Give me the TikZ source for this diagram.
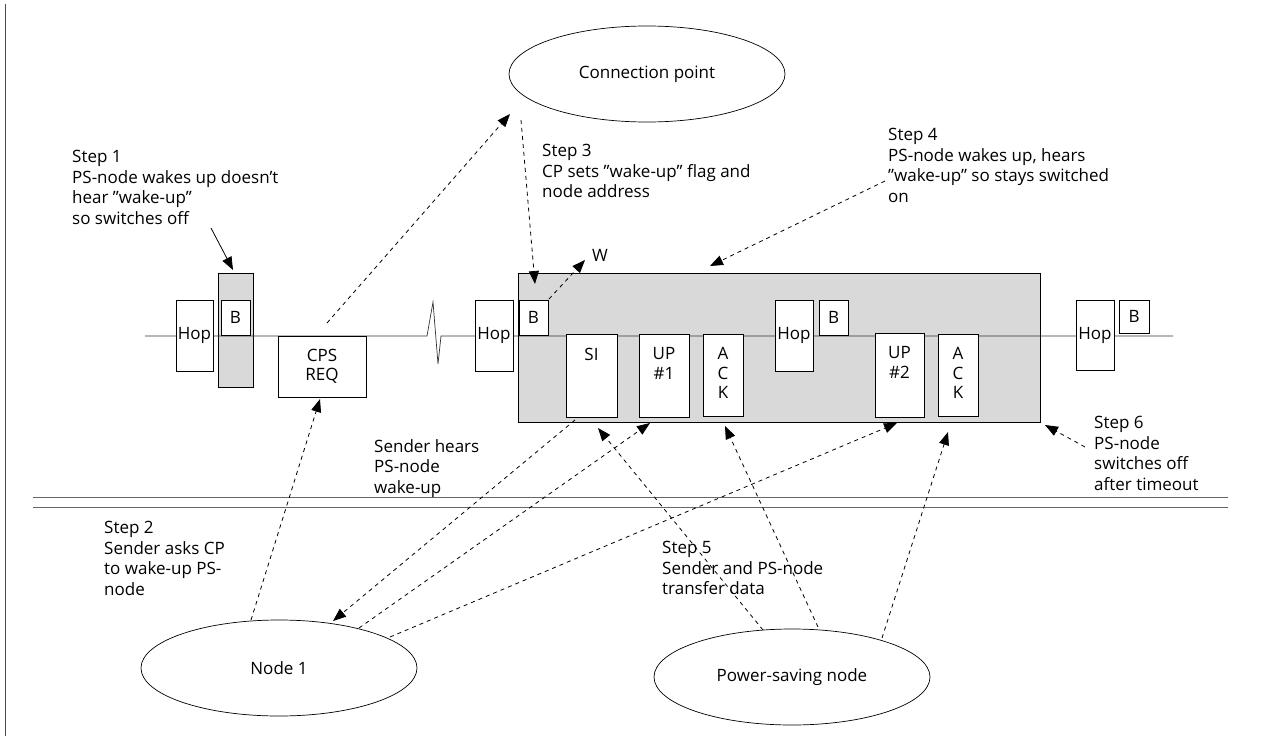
\documentclass[tikz,border=0pt]{standalone}
\usepackage{fontspec}
\setmainfont{Open Sans}
\usetikzlibrary{arrows.meta,shapes.geometric}
\newcommand{\sq}{\symbol{"27}}
\newcommand{\dq}{\symbol{"22}}
\begin{document}
\begin{tikzpicture}[x=1pt,y=-1pt,
  lbl/.style={anchor=north west,align=left,inner sep=0pt,font=\fontsize{17}{20.5}\selectfont},
  bx/.style={draw,fill=white,line width=0.8pt,inner sep=0pt,font=\fontsize{17}{19}\selectfont,align=center},
  shd/.style={fill=black!15,draw,line width=0.9pt},
  ell/.style={ellipse,draw,line width=0.7pt,minimum width=276pt,minimum height=96pt,inner sep=0pt,font=\fontsize{17}{20}\selectfont},
  dar/.style={dash pattern=on 4pt off 4pt,line width=0.8pt,-{Triangle[length=13pt,width=10pt]}},
  sar/.style={line width=0.8pt,-{Triangle[length=13pt,width=10pt]}},
  btxt/.style={anchor=north,inner sep=0pt,align=center,font=\fontsize{17}{19.5}\selectfont}
]
\useasboundingbox[fill=white] (0,0) rectangle (1264,736);
% left border
\draw[line width=0.6pt,black!70] (5,4) -- (5,736);
% double separator lines
\draw[line width=0.9pt,black!60] (33,497) -- (1228,497);
\draw[line width=0.9pt,black!60] (33,507) -- (1228,507);
% shaded regions
\node[shd,rectangle,minimum width=35pt,minimum height=114pt,inner sep=0pt] (col) at (235.5,330) {};
\node[shd,rectangle,minimum width=522pt,minimum height=149pt,inner sep=0pt] (reg) at (779,347.5) {};
% baseline with zigzag
\coordinate (l0) at (145,336);
\coordinate (z1) at (427,336);
\coordinate (z2) at (433,302);
\coordinate (z3) at (438,364);
\coordinate (z4) at (441,336);
\coordinate (l1) at (1173,336);
\draw[line width=0.7pt,black!80] (l0) -- (z1) -- (z2) -- (z3) -- (z4) -- (l1);
% boxes
\node[bx,minimum width=37pt,minimum height=71pt] (hop1) at (194.5,335.5) {Hop};
\node[bx,minimum width=29pt,minimum height=35pt] (b1) at (235.5,317.5) {B};
\node[bx,minimum width=88pt,minimum height=61pt] (cps) at (322,366.5) {CPS\\REQ};
\node[bx,minimum width=38pt,minimum height=71pt] (hop2) at (494,335.5) {Hop};
\node[bx,minimum width=29pt,minimum height=35pt] (b2) at (533.5,317.5) {B};
\node[bx,minimum width=51pt,minimum height=83pt] (si) at (591.5,375.5) {};
\node[bx,minimum width=50pt,minimum height=83pt] (up1) at (664,375.5) {};
\node[bx,minimum width=40pt,minimum height=82pt] (ack1) at (723,375) {};
\node[bx,minimum width=38pt,minimum height=71pt] (hop3) at (794,335.5) {Hop};
\node[bx,minimum width=29pt,minimum height=35pt] (b3) at (833.5,317.5) {B};
\node[bx,minimum width=49pt,minimum height=84pt] (up2) at (899.5,375) {};
\node[bx,minimum width=40pt,minimum height=82pt] (ack2) at (958,375) {};
\node[bx,minimum width=38pt,minimum height=70pt] (hop4) at (1095,335) {Hop};
\node[bx,minimum width=30pt,minimum height=33pt] (b4) at (1134,316.5) {B};
% texts inside boxes
\node[btxt] (sit) at ([yshift=-14pt]si.north) {SI};
\node[btxt] (up1t) at ([yshift=-14pt]up1.north) {UP\\\#1};
\node[btxt] (ack1t) at ([yshift=-14pt]ack1.north) {A\\C\\K};
\node[btxt] (up2t) at ([yshift=-14pt]up2.north) {UP\\\#2};
\node[btxt] (ack2t) at ([yshift=-14pt]ack2.north) {A\\C\\K};
% ellipses
\node[ell] (cp) at (647,74) {Connection point};
\node[ell] (n1) at (279,668) {Node 1};
\node[ell] (ps) at (792,677) {Power-saving node};
% labels
\node[lbl] (s1) at (72,150) {Step 1\\PS-node wakes up doesn\sq t\\hear \dq wake-up\dq\\so switches off};
\node[lbl] (s3) at (542,144) {Step 3\\CP sets \dq wake-up\dq\ flag and\\node address};
\node[lbl] (s4) at (888,128) {Step 4\\PS-node wakes up, hears\\\dq wake-up\dq\ so stays switched\\on};
\node[lbl,anchor=center] (w) at (600,255) {W};
\node[lbl] (s6) at (1094,416) {Step 6\\PS-node\\switches off\\after timeout};
\node[lbl] (sh) at (374,439) {Sender hears\\PS-node\\wake-up};
\node[lbl] (s2) at (104,521) {Step 2\\Sender asks CP\\to wake-up PS-\\node};
\node[lbl] (s5) at (662,541) {Step 5\\Sender and PS-node\\transfer data};
% arrow end points
\coordinate (a1s) at (327,323); \coordinate (a1e) at (510,114);
\coordinate (a2s) at (521,120); \coordinate (a2e) at (535,284);
\coordinate (aws) at (549,299); \coordinate (awe) at (585,260);
\coordinate (a4s) at (885,181); \coordinate (a4e) at (710,266);
\coordinate (a0s) at (211,228); \coordinate (a0e) at (233,270);
\coordinate (n1a) at (251,620); \coordinate (cpsb) at (320,399);
\coordinate (sib) at (575,420); \coordinate (n1b) at (333,621);
\coordinate (n1c) at (359,628); \coordinate (up1b) at (650,423);
\coordinate (n1d) at (390,637); \coordinate (up2b) at (897,423);
\coordinate (psa) at (763,630); \coordinate (sic) at (598,428);
\coordinate (psb) at (818,627); \coordinate (ack1b) at (725,426);
\coordinate (psc) at (882,638); \coordinate (ack2b) at (948,432);
\coordinate (a6s) at (1085,447); \coordinate (a6e) at (1045,425);
% arrows
\draw[dar] (a1s) -- (a1e);
\draw[dar] (a2s) -- (a2e);
\draw[dar] (aws) -- (awe);
\draw[dar] (a4s) -- (a4e);
\draw[sar] (a0s) -- (a0e);
\draw[dar] (n1a) -- (cpsb);
\draw[dar] (sib) -- (n1b);
\draw[dar] (n1c) -- (up1b);
\draw[dar] (n1d) -- (up2b);
\draw[dar] (psa) -- (sic);
\draw[dar] (psb) -- (ack1b);
\draw[dar] (psc) -- (ack2b);
\draw[dar] (a6s) -- (a6e);
\end{tikzpicture}
\end{document}
